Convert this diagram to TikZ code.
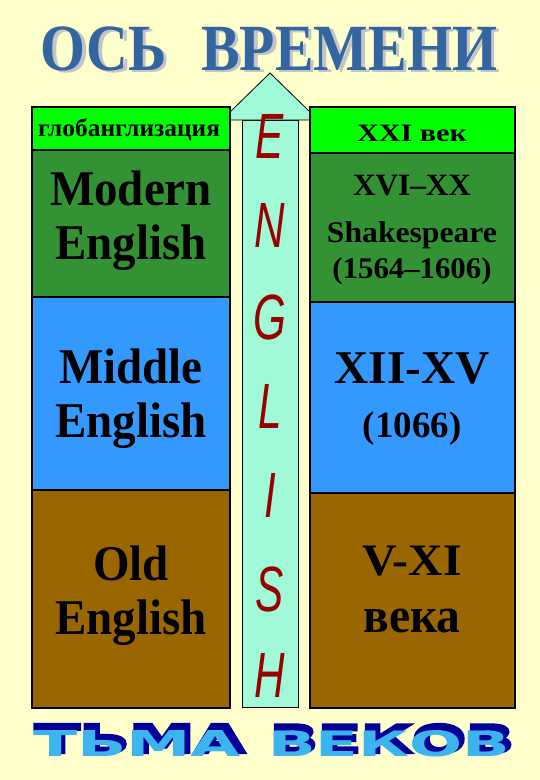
\documentclass[tikz,border=0pt]{standalone}
\usepackage{fontspec}
\usepackage{graphicx}
\setmainfont{Liberation Serif}
\newfontfamily\armsans{Liberation Sans}
\newfontfamily\heavysans{DejaVu Sans Bold}
\newfontfamily\heavyfat{DejaVu Sans Bold}[FakeBold=6]
\definecolor{bgyellow}{RGB}{255,255,204}
\definecolor{lgreen}{RGB}{0,255,0}
\definecolor{dgreen}{RGB}{51,146,51}
\definecolor{mblue}{RGB}{51,153,255}
\definecolor{brownish}{RGB}{153,102,0}
\definecolor{aqua}{RGB}{160,250,215}
\definecolor{titleblue}{RGB}{51,102,160}
\definecolor{titleshadow}{RGB}{195,195,200}
\definecolor{letterred}{RGB}{153,0,0}
\definecolor{waLight}{RGB}{60,180,240}
\definecolor{waDark}{RGB}{0,0,150}
\newcommand{\sx}[2]{\scalebox{#1}[1]{#2}}
\newcommand{\fw}[2]{\resizebox{#1}{\height}{#2}}
\tikzset{
  box/.style={draw=black, line width=1.6pt, rectangle, anchor=north west, inner sep=0pt, outer sep=0pt},
  txt/.style={anchor=base, inner sep=0pt, outer sep=0pt, text=black},
  bigtxt/.style={txt, font=\fontsize{50}{50}\selectfont\bfseries},
  letter/.style={inner sep=0pt, outer sep=0pt, text=letterred, font=\fontsize{64}{64}\armsans\itshape},
  arrowst/.style={draw=black, line width=0.8pt, fill=aqua},
  wa/.style={anchor=base west, inner sep=0pt, outer sep=0pt}
}
\begin{document}
\begin{tikzpicture}[x=1pt,y=-1pt]
\useasboundingbox (0,0) rectangle (540,780);
\fill[bgyellow] (0,0) rectangle (540,780);

% title
\node[txt, text=titleshadow, font=\fontsize{66}{66}\selectfont\bfseries] (titleshadow) at (272.5,72.5) {\fw{456pt}{ОСЬ\hspace{0.6em}ВРЕМЕНИ}};
\node[txt, text=titleblue, font=\fontsize{66}{66}\selectfont\bfseries] (title) at (269,70) {\fw{456pt}{ОСЬ\hspace{0.6em}ВРЕМЕНИ}};

% arrow
\draw[arrowst] (242,120) rectangle (298,707);
\draw[arrowst] (230,120) -- (230,112) -- (270,73) -- (310,112) -- (310,120) -- cycle;

% left column
\node[box, fill=lgreen, minimum width=198pt, minimum height=43pt] (glob) at (32,107) {};
\node[box, fill=dgreen, minimum width=198pt, minimum height=147pt] (modern) at (32,150) {};
\node[box, fill=mblue, minimum width=198pt, minimum height=193pt] (middle) at (32,297) {};
\node[box, fill=brownish, minimum width=198pt, minimum height=218pt] (old) at (32,490) {};

% right column
\node[box, fill=lgreen, minimum width=205pt, minimum height=46pt] (xxi) at (310,107) {};
\node[box, fill=dgreen, minimum width=205pt, minimum height=149pt] (xvi) at (310,153) {};
\node[box, fill=mblue, minimum width=205pt, minimum height=191pt] (xii) at (310,302) {};
\node[box, fill=brownish, minimum width=205pt, minimum height=215pt] (vxi) at (310,493) {};

% left texts
\node[txt, font=\fontsize{25}{25}\selectfont\bfseries] (tglob) at (129,136) {\fw{182pt}{глобанглизация}};
\node[bigtxt] (tmodern) at (131,205) {\sx{0.94}{Modern}};
\node[bigtxt] (tmodeng) at (131,259) {\sx{0.94}{English}};
\node[bigtxt] (tmiddle) at (131,383) {\sx{0.94}{Middle}};
\node[bigtxt] (tmideng) at (131,437) {\sx{0.94}{English}};
\node[bigtxt] (told) at (131,580) {\sx{0.94}{Old}};
\node[bigtxt] (toldeng) at (131,634) {\sx{0.94}{English}};

% right texts
\node[txt, font=\fontsize{25}{25}\selectfont\bfseries] (txxi) at (412,141) {\fw{110pt}{XXI век}};
\node[txt, font=\fontsize{31}{31}\selectfont\bfseries] (txvi) at (412,195) {\fw{118pt}{XVI–XX}};
\node[txt, font=\fontsize{30}{30}\selectfont\bfseries] (tshak) at (412,242) {\fw{170pt}{Shakespeare}};
\node[txt, font=\fontsize{30}{30}\selectfont\bfseries] (tyears) at (412,278) {\fw{159pt}{(1564–1606)}};
\node[txt, font=\fontsize{47}{47}\selectfont\bfseries] (txii) at (412,383) {\fw{155pt}{XII-XV}};
\node[txt, font=\fontsize{37}{37}\selectfont\bfseries] (t1066) at (412,437) {(1066)};
\node[txt, font=\fontsize{45}{45}\selectfont\bfseries] (tvxi) at (412,575) {\fw{100pt}{V-XI}};
\node[txt, font=\fontsize{50}{50}\selectfont\bfseries] (tveka) at (412,632) {\fw{97pt}{века}};

% ENGLISH
\node[letter] (lE) at (270,136) {\sx{0.66}{E}};
\node[letter] (lN) at (270,225) {\sx{0.66}{N}};
\node[letter] (lG) at (270,317) {\sx{0.66}{G}};
\node[letter] (lL) at (270,406) {\sx{0.66}{L}};
\node[letter] (lI) at (270,495) {\sx{0.66}{I}};
\node[letter] (lS) at (270,589) {\sx{0.66}{S}};
\node[letter] (lH) at (270,675) {\sx{0.66}{H}};

% ТЬМА ВЕКОВ: dark extruded outline, then light face
\node[wa, text=waDark] (tmashadow) at (35,753) {\resizebox{210pt}{29pt}{\fontsize{37}{37}\heavyfat ТЬМА}};
\node[wa, text=waDark] (vekovshadow) at (270,753) {\resizebox{244pt}{29pt}{\fontsize{37}{37}\heavyfat ВЕКОВ}};
\node[wa, text=waLight] (tma) at (33,756) {\resizebox{208pt}{26pt}{\fontsize{37}{37}\heavysans ТЬМА}};
\node[wa, text=waLight] (vekov) at (268,756) {\resizebox{242pt}{26pt}{\fontsize{37}{37}\heavysans ВЕКОВ}};
\end{tikzpicture}
\end{document}
